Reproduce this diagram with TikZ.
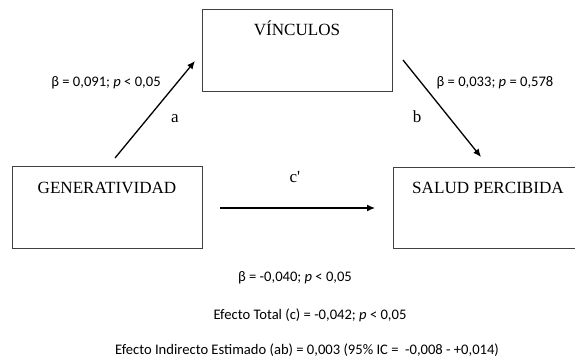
\documentclass[tikz,border=0pt]{standalone}
\usepackage{fontspec}
\setmainfont{Liberation Serif}
\newfontfamily\lblfont{Carlito}
\usetikzlibrary{arrows.meta}
\tikzset{
  boxline/.style={draw=black!75, line width=0.9pt},
  arr/.style={draw=black, line width=1.3pt, -{Latex[length=8pt,width=7pt]}},
  boxtext/.style={font=\fontsize{17.1}{19}\selectfont, anchor=base, inner sep=0pt},
  pathlbl/.style={font=\fontsize{17}{19}\selectfont, anchor=base, inner sep=0pt},
  stat/.style={font=\lblfont\fontsize{14.6}{16}\selectfont, anchor=base, inner sep=0pt}
}
\begin{document}
\begin{tikzpicture}[x=1pt,y=-1pt]
\useasboundingbox (0,0) rectangle (575,360);
\clip (0,0) rectangle (575,360);
\fill[white] (0,0) rectangle (575,360);
% boxes
\draw[boxline] (202,9) rectangle (392,91);
\draw[boxline] (12,166) rectangle (202,248);
\draw[boxline] (393,167) rectangle (583,248);
\node[boxtext] (vin) at (297,35) {VÍNCULOS};
\node[boxtext] (gen) at (107,193) {GENERATIVIDAD};
\node[boxtext] (sal) at (488,193) {SALUD PERCIBIDA};
% arrow anchor points
\coordinate (a1) at (115,158);
\coordinate (a2) at (195,61);
\coordinate (b1) at (403,60);
\coordinate (b2) at (481,157);
\coordinate (c1) at (220,208);
\coordinate (c2) at (375,208);
\draw[arr] (a1) -- (a2);
\draw[arr] (b1) -- (b2);
\draw[arr] (c1) -- (c2);
% labels
\node[pathlbl] (la) at (175,122) {a};
\node[pathlbl] (lb) at (417,122) {b};
\node[pathlbl] (lc) at (295,182) {\addfontfeatures{Ligatures=TeXOff}c'};
\node[stat] (sa) at (106,86) {β = 0,091; \textit{p} < 0,05};
\node[stat] (sb) at (495,86) {β = 0,033; \textit{p} = 0,578};
\node[stat] (sc) at (295,281) {β = -0,040; \textit{p} < 0,05};
\node[stat] (st) at (310,319) {Efecto Total (c) = -0,042; \textit{p} < 0,05};
\node[stat] (si) at (307,354) {Efecto Indirecto Estimado (ab) = 0,003 (95\% IC =\ \ -0,008 - +0,014)};
\end{tikzpicture}
\end{document}
